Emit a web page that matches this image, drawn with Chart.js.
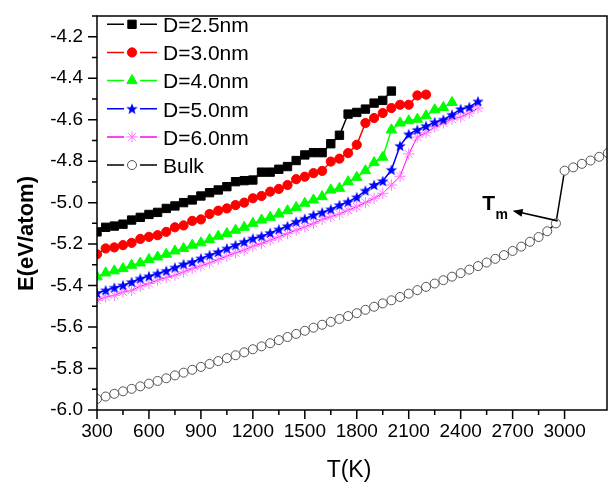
<!DOCTYPE html>
<html><head><meta charset="utf-8">
<script src="https://cdn.jsdelivr.net/npm/chart.js@4.4.0/dist/chart.umd.min.js"></script>
<style>html,body{margin:0;padding:0;background:#fff;}canvas{display:block;}</style>
</head><body>
<canvas id="c" width="609" height="482"></canvas>
<script>
// ---- data ----
const temperatures = [300,350,400,450,500,550,600,650,700,750,800,850,900,950,1000,1050,1100,1150,1200,1250,
  1300,1350,1400,1450,1500,1550,1600,1650,1700,1750,1800,1850,1900,1950,2000,2050,2100,2150,2200,2250,
  2300,2350,2400,2450,2500,2550,2600,2650,2700,2750,2800,2850,2900,2950,3000,3050,3100,3150,3200,3250];
const seriesLabels = ['D=2.5nm','D=3.0nm','D=4.0nm','D=5.0nm','D=6.0nm','Bulk'];
const eD25 = [-5.141,-5.119,-5.113,-5.104,-5.084,-5.071,-5.057,-5.047,-5.028,-5.016,-5.000,-4.987,-4.968,-4.952,-4.939,
  -4.923,-4.899,-4.894,-4.891,-4.853,-4.853,-4.839,-4.826,-4.797,-4.770,-4.759,-4.759,-4.716,-4.675,-4.573,-4.565,-4.549,-4.520,-4.507,-4.462];
const eD30 = [-5.249,-5.221,-5.216,-5.205,-5.194,-5.175,-5.165,-5.157,-5.141,-5.119,-5.110,-5.088,-5.081,-5.055,-5.039,
  -5.028,-5.012,-5.000,-4.979,-4.968,-4.947,-4.934,-4.915,-4.887,-4.875,-4.858,-4.847,-4.802,-4.788,-4.761,-4.721,
  -4.616,-4.592,-4.568,-4.544,-4.528,-4.528,-4.483,-4.479];
const eD40 = [-5.358,-5.339,-5.329,-5.318,-5.302,-5.291,-5.274,-5.262,-5.249,-5.233,-5.221,-5.205,-5.194,-5.178,-5.162,
  -5.149,-5.133,-5.119,-5.100,-5.084,-5.071,-5.055,-5.039,-5.023,-5.003,-4.987,-4.971,-4.939,-4.931,-4.899,-4.878,
  -4.846,-4.807,-4.781,-4.649,-4.616,-4.605,-4.598,-4.581,-4.552,-4.541,-4.517];
const eD50 = [-5.436,-5.423,-5.410,-5.399,-5.383,-5.366,-5.355,-5.342,-5.329,-5.313,-5.297,-5.286,-5.269,-5.253,-5.238,
  -5.221,-5.205,-5.189,-5.173,-5.162,-5.146,-5.129,-5.113,-5.092,-5.078,-5.060,-5.047,-5.032,-5.012,-4.996,-4.974,
  -4.942,-4.915,-4.896,-4.842,-4.726,-4.670,-4.649,-4.631,-4.612,-4.600,-4.576,-4.549,-4.539,-4.512];
const eD60 = [-5.471,-5.455,-5.447,-5.431,-5.423,-5.403,-5.390,-5.374,-5.361,-5.350,-5.334,-5.318,-5.305,-5.291,-5.274,
  -5.258,-5.242,-5.229,-5.210,-5.197,-5.181,-5.165,-5.149,-5.133,-5.117,-5.100,-5.081,-5.068,-5.055,-5.036,-5.020,
  -5.000,-4.979,-4.955,-4.915,-4.873,-4.765,-4.684,-4.663,-4.635,-4.616,-4.597,-4.587,-4.568,-4.544];
const eBulk = [-5.947,-5.935,-5.922,-5.910,-5.898,-5.886,-5.873,-5.860,-5.847,-5.833,-5.820,-5.806,-5.792,-5.778,-5.764,
  -5.750,-5.736,-5.722,-5.707,-5.693,-5.678,-5.663,-5.648,-5.633,-5.618,-5.603,-5.589,-5.575,-5.561,-5.547,-5.533,
  -5.517,-5.502,-5.486,-5.471,-5.455,-5.439,-5.422,-5.406,-5.390,-5.374,-5.357,-5.340,-5.323,-5.306,-5.289,-5.271,
  -5.253,-5.233,-5.212,-5.189,-5.166,-5.138,-5.100,-4.846,-4.830,-4.813,-4.797,-4.779,-4.761];
const xTickLabels = [300,600,900,1200,1500,1800,2100,2400,2700,3000];
const yTickLabels = [-6.0,-5.8,-5.6,-5.4,-5.2,-5.0,-4.8,-4.6,-4.4,-4.2];
const tmTail = {x: 2960, y: -5.088};
const tmHead = {x: 2700, y: -5.039};
const tmText = {x: 2530, y: -5.039};

const FONT = '"Liberation Sans", Arial, Helvetica, sans-serif';
const AREA = {left: 97, top: 16, right: 607, bottom: 410};

function makeStar(color, R, r) {
  const s = Math.ceil(2 * R + 2);
  const cv = document.createElement('canvas'); cv.width = s; cv.height = s;
  const g = cv.getContext('2d'); g.fillStyle = color; g.beginPath();
  for (let k = 0; k < 10; k++) {
    const rad = (k % 2) ? r : R; const a = -Math.PI / 2 + k * Math.PI / 5;
    const px = s / 2 + rad * Math.cos(a), py = s / 2 + rad * Math.sin(a) + 0.4;
    if (k) g.lineTo(px, py); else g.moveTo(px, py);
  }
  g.closePath(); g.fill(); return cv;
}
const blueStar = makeStar('#0000ff', 6, 2.5);

const pts = arr => arr.map((e, i) => ({x: temperatures[i], y: e}));
const styles = [
  {line:'#000000', fill:'#000000', stroke:'#000000', style:'rect', r:5.9, bw:1, lw:1.5},
  {line:'#ff0000', fill:'#ff0000', stroke:'#ff0000', style:'circle', r:4.6, bw:1, lw:1.5},
  {line:'#00ff00', fill:'#00ff00', stroke:'#00ff00', style:'triangle', r:6, bw:1, lw:1.5},
  {line:'#0000ff', fill:'#0000ff', stroke:'#0000ff', style:blueStar, r:6, bw:1, lw:1.5},
  {line:'#ff00ff', fill:'#ff77ff', stroke:'#ff77ff', style:'star', r:5.6, bw:1, lw:1},
  {line:'#000000', fill:'#ffffff', stroke:'#555555', style:'circle', r:4.5, bw:1, lw:1.5}
];
const allSeries = [eD25, eD30, eD40, eD50, eD60, eBulk];
const datasets = allSeries.map((arr, i) => ({
  label: seriesLabels[i], data: pts(arr),
  borderColor: styles[i].line, backgroundColor: styles[i].fill, borderWidth: styles[i].lw,
  pointStyle: styles[i].style, pointRadius: styles[i].r, pointHoverRadius: styles[i].r,
  pointBorderWidth: styles[i].bw, pointBackgroundColor: styles[i].fill, pointBorderColor: styles[i].stroke,
  tension: 0, fill: false
}));

const deco = {
  id: 'deco',
  afterLayout(chart) {
    const ca = chart.chartArea;
    ca.left = AREA.left; ca.top = AREA.top; ca.right = AREA.right; ca.bottom = AREA.bottom;
    ca.width = AREA.right - AREA.left; ca.height = AREA.bottom - AREA.top;
    const xs = chart.scales.x, ys = chart.scales.y;
    xs.left = AREA.left; xs.right = AREA.right; xs.width = ca.width;
    xs.top = AREA.bottom; xs.bottom = chart.height; xs.height = chart.height - AREA.bottom;
    ys.left = 0; ys.right = AREA.left; ys.width = AREA.left;
    ys.top = AREA.top; ys.bottom = AREA.bottom; ys.height = ca.height;
    xs.configure(); ys.configure();
  },
  beforeDraw(chart) {
    const c = chart.ctx; c.save(); c.fillStyle = '#fff'; c.fillRect(0, 0, chart.width, chart.height); c.restore();
  },
  afterDraw(chart) {
    const ctx = chart.ctx, xs = chart.scales.x, ys = chart.scales.y, a = chart.chartArea;
    ctx.save();
    ctx.strokeStyle = '#000'; ctx.lineWidth = 1.5;
    ctx.strokeRect(a.left, a.top, a.right - a.left, a.bottom - a.top);
    ctx.beginPath();
    xs.ticks.forEach(t => {
      if (t.value % 150 !== 0) return;
      const px = xs.getPixelForValue(t.value);
      const major = xTickLabels.includes(t.value);
      ctx.moveTo(px, a.bottom); ctx.lineTo(px, a.bottom + (major ? 9 : 5));
    });
    ys.ticks.forEach(t => {
      const k = Math.round(t.value * 10);
      const py = ys.getPixelForValue(t.value);
      const major = k % 2 === 0;
      ctx.moveTo(a.left - (major ? 9 : 5), py); ctx.lineTo(a.left, py);
    });
    ctx.stroke();

    // axis titles
    ctx.fillStyle = '#000';
    ctx.font = '23px ' + FONT; ctx.textAlign = 'center'; ctx.textBaseline = 'alphabetic';
    ctx.fillText('T(K)', 349, 477);
    ctx.save();
    ctx.translate(26.5, 233.5); ctx.rotate(-Math.PI / 2);
    ctx.font = 'bold 22px ' + FONT; ctx.textBaseline = 'middle';
    ctx.fillText('E(eV/atom)', 0, 0);
    ctx.restore();

    // legend
    chart.data.datasets.forEach((ds, i) => {
      const y = 24.3 + 28.15 * i;
      ctx.strokeStyle = ds.borderColor; ctx.lineWidth = 1.5;
      ctx.beginPath(); ctx.moveTo(107, y); ctx.lineTo(124, y); ctx.moveTo(140, y); ctx.lineTo(157, y); ctx.stroke();
      ctx.fillStyle = ds.pointBackgroundColor; ctx.strokeStyle = ds.pointBorderColor; ctx.lineWidth = ds.pointBorderWidth;
      Chart.helpers.drawPoint(ctx, {pointStyle: ds.pointStyle, radius: ds.pointRadius, borderWidth: ds.pointBorderWidth, rotation: 0}, 132, y);
      ctx.fillStyle = '#000'; ctx.font = '21px ' + FONT; ctx.textAlign = 'left'; ctx.textBaseline = 'alphabetic';
      ctx.fillText(ds.label, 163, y + 7.8);
    });

    // Tm annotation
    const tx = xs.getPixelForValue(tmTail.x), ty = ys.getPixelForValue(tmTail.y);
    const hx = xs.getPixelForValue(tmHead.x), hy = ys.getPixelForValue(tmHead.y);
    const ang = Math.atan2(hy - ty, hx - tx);
    ctx.strokeStyle = '#000'; ctx.fillStyle = '#000'; ctx.lineWidth = 1.6;
    ctx.beginPath(); ctx.moveTo(tx, ty); ctx.lineTo(hx - 6 * Math.cos(ang), hy - 6 * Math.sin(ang)); ctx.stroke();
    ctx.beginPath(); ctx.moveTo(hx, hy);
    ctx.lineTo(hx - 10 * Math.cos(ang) + 4 * Math.sin(ang), hy - 10 * Math.sin(ang) - 4 * Math.cos(ang));
    ctx.lineTo(hx - 10 * Math.cos(ang) - 4 * Math.sin(ang), hy - 10 * Math.sin(ang) + 4 * Math.cos(ang));
    ctx.closePath(); ctx.fill();
    const px = xs.getPixelForValue(tmText.x), py = ys.getPixelForValue(tmText.y);
    ctx.textAlign = 'left'; ctx.textBaseline = 'alphabetic';
    ctx.font = 'bold 21px ' + FONT; ctx.fillText('T', px - 1, py - 1);
    const w = ctx.measureText('T').width;
    ctx.font = 'bold 14px ' + FONT; ctx.fillText('m', px - 1 + w + 0.5, py + 8.5);
    ctx.restore();
  }
};

const zeroPad = s => { s.paddingLeft = 0; s.paddingRight = 0; s.paddingTop = 0; s.paddingBottom = 0; };

new Chart(document.getElementById('c'), {
  type: 'line',
  data: {datasets},
  options: {
    responsive: false, animation: false, devicePixelRatio: 1,
    layout: {padding: {left: 0, top: 16, right: 2, bottom: 0}},
    plugins: {legend: {display: false}, tooltip: {enabled: false}},
    scales: {
      x: {
        type: 'linear', min: 300, max: 3245,
        grid: {display: false, drawTicks: false}, border: {display: false},
        ticks: {stepSize: 150, autoSkip: false, maxRotation: 0, padding: 10.5, color: '#000',
          font: {family: FONT, size: 19},
          callback: v => xTickLabels.includes(v) ? String(v) : ''},
        afterFit: s => { s.height = 72; zeroPad(s); }
      },
      y: {
        type: 'linear', min: -6.0, max: -4.1,
        grid: {display: false, drawTicks: false}, border: {display: false},
        ticks: {stepSize: 0.1, autoSkip: false, padding: 14, color: '#000',
          font: {family: FONT, size: 19},
          callback: v => { const t = yTickLabels.find(q => Math.abs(q - v) < 1e-6); return t === undefined ? '' : t.toFixed(1); }},
        afterFit: s => { s.width = 97; zeroPad(s); }
      }
    }
  },
  plugins: [deco]
});
</script>
</body></html>
